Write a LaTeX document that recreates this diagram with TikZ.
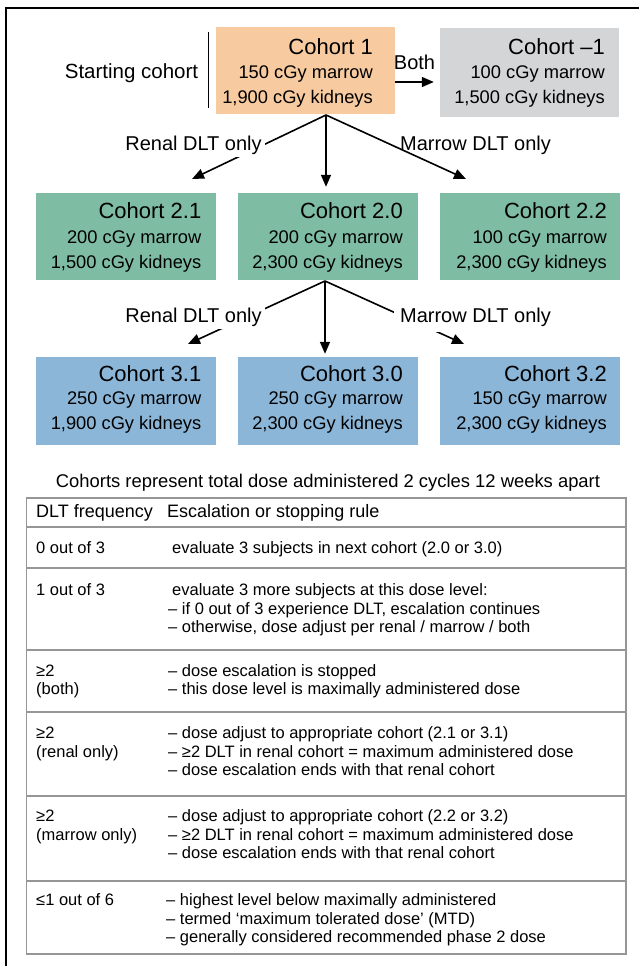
\documentclass[tikz,border=0pt]{standalone}
\usepackage{fontspec}
\setmainfont{Liberation Sans}
\usetikzlibrary{arrows.meta,calc}
\definecolor{corange}{RGB}{247,202,160}
\definecolor{cgray}{RGB}{211,213,215}
\definecolor{cgreen}{RGB}{126,189,164}
\definecolor{cblue}{RGB}{139,182,216}
\definecolor{tgray}{RGB}{150,150,150}
\begin{document}
\begin{tikzpicture}[x=1pt,y=-1pt,
  cbox/.style={draw=none,rectangle,minimum width=180pt,minimum height=87pt,inner sep=0pt},
  ctitle/.style={anchor=base east,inner sep=0pt,font=\fontsize{22}{26}\selectfont},
  cline/.style={anchor=base east,inner sep=0pt,font=\fontsize{18.3}{22}\selectfont},
  lab/.style={anchor=base,inner sep=0pt,font=\fontsize{20}{24}\selectfont},
  wlab/.style={lab,fill=white,inner sep=3pt},
  conn/.style={line width=1.6pt,-{Triangle[length=12pt,width=10pt]}},
  ttext/.style={anchor=base west,inner sep=0pt,font=\fontsize{16.5}{20}\selectfont},
  thead/.style={anchor=base west,inner sep=0pt,font=\fontsize{18}{22}\selectfont},
  tline/.style={draw=tgray,line width=1.6pt}]
\useasboundingbox (0,0) rectangle (639,966);
% outer frame (cropped)
\draw[line width=2.2pt] (6,966) -- (6,8) -- (639,8);

% starting cohort
\node[lab,font=\fontsize{20.5}{24}\selectfont] (start) at (131.5,78.3) {Starting cohort};
\draw[line width=1.5pt] (208.5,32) -- (208.5,108);

% cohort boxes
\node[cbox,fill=corange,minimum width=179pt] (c1) at (305.5,70.5) {};
\node[ctitle] (c1t) at (373,55) {Cohort 1};
\node[cline] (c1a) at (373,78.5) {150 cGy marrow};
\node[cline] (c1b) at (373,103.5) {1,900 cGy kidneys};

\node[cbox,fill=cgray,minimum width=179pt,minimum height=89pt] (cm1) at (529.5,72.5) {};
\node[ctitle] (cm1t) at (605,55) {Cohort –1};
\node[cline] (cm1a) at (605,78.5) {100 cGy marrow};
\node[cline] (cm1b) at (605,103.5) {1,500 cGy kidneys};

\node[cbox,fill=cgreen] (c21) at (126,236.5) {};
\node[ctitle] (c21t) at (201.5,218) {Cohort 2.1};
\node[cline] (c21a) at (201.5,243.5) {200 cGy marrow};
\node[cline] (c21b) at (201.5,268) {1,500 cGy kidneys};

\node[cbox,fill=cgreen] (c20) at (327.5,236.5) {};
\node[ctitle] (c20t) at (403,218) {Cohort 2.0};
\node[cline] (c20a) at (403,243.5) {200 cGy marrow};
\node[cline] (c20b) at (403,268) {2,300 cGy kidneys};

\node[cbox,fill=cgreen] (c22) at (529.5,236.5) {};
\node[ctitle] (c22t) at (607,218) {Cohort 2.2};
\node[cline] (c22a) at (607,243.5) {100 cGy marrow};
\node[cline] (c22b) at (607,268) {2,300 cGy kidneys};

\node[cbox,fill=cblue,minimum height=88pt] (c31) at (126,401) {};
\node[ctitle] (c31t) at (201.5,381) {Cohort 3.1};
\node[cline] (c31a) at (201.5,404.5) {250 cGy marrow};
\node[cline] (c31b) at (201.5,429.5) {1,900 cGy kidneys};

\node[cbox,fill=cblue,minimum height=88pt] (c30) at (327.5,401) {};
\node[ctitle] (c30t) at (403,381) {Cohort 3.0};
\node[cline] (c30a) at (403,404.5) {250 cGy marrow};
\node[cline] (c30b) at (403,429.5) {2,300 cGy kidneys};

\node[cbox,fill=cblue,minimum height=88pt] (c32) at (529.5,401) {};
\node[ctitle] (c32t) at (607,381) {Cohort 3.2};
\node[cline] (c32a) at (607,404.5) {150 cGy marrow};
\node[cline] (c32b) at (607,429.5) {2,300 cGy kidneys};

% Both arrow
\draw[conn,shorten >=6pt] ($(c1.east)+(0,11.5)$) -- ($(cm1.west)+(0,9.5)$);
\node[lab] (both) at (414.5,69.2) {Both};

% level 1 -> 2
\coordinate (o1) at (326,115);
\coordinate (t1l) at (192,179);
\coordinate (t1r) at (466,179);
\draw[conn] (o1) -- (t1l);
\draw[conn] (o1) -- (t1r);
\draw[conn] (o1) -- ($(c20.north)+(-1.5,-6)$);
\node[wlab] (r1) at (193.5,150.2) {Renal DLT only};
\node[lab] (m1) at (475.5,150.2) {Marrow DLT only};

% level 2 -> 3
\coordinate (o2) at (325,281);
\coordinate (t2l) at (188,344);
\coordinate (t2r) at (464,344);
\draw[conn] (o2) -- (t2l);
\draw[conn] (o2) -- (t2r);
\draw[conn] (o2) -- ($(c30.north)+(-2.5,-3)$);
\node[wlab] (r2) at (193.5,322.2) {Renal DLT only};
\node[wlab,inner sep=6pt] (m2) at (475.5,322.2) {Marrow DLT only};

% caption
\node[anchor=base,inner sep=0pt,font=\fontsize{18.4}{22}\selectfont] (cap) at (328,487.6) {Cohorts represent total dose administered 2 cycles 12 weeks apart};

% table
\draw[tline] (26.5,498) rectangle (626,954);
\foreach \yy in {527,568,650,712,796,881} \draw[tline] (26.5,\yy) -- (626,\yy);

\node[thead] (h1) at (36,517.5) {DLT frequency};
\node[thead] (h2) at (167,517.5) {Escalation or stopping rule};

\node[ttext] (a1) at (36,553.5) {0 out of 3};
\node[ttext] (a2) at (172,553.5) {evaluate 3 subjects in next cohort (2.0 or 3.0)};

\node[ttext] (b1) at (36,595.5) {1 out of 3};
\node[ttext] (b2) at (172,595.5) {evaluate 3 more subjects at this dose level:};
\node[ttext] (b3) at (168,614) {– if 0 out of 3 experience DLT, escalation continues};
\node[ttext] (b4) at (168,632.5) {– otherwise, dose adjust per renal / marrow / both};

\node[ttext] (d1) at (36,676) {≥2};
\node[ttext] (d2) at (36,694.5) {(both)};
\node[ttext] (d3) at (168,676) {– dose escalation is stopped};
\node[ttext] (d4) at (168,694.5) {– this dose level is maximally administered dose};

\node[ttext] (e1) at (36,738.5) {≥2};
\node[ttext] (e2) at (36,757) {(renal only)};
\node[ttext] (e3) at (168,738.5) {– dose adjust to appropriate cohort (2.1 or 3.1)};
\node[ttext] (e4) at (168,757) {– ≥2 DLT in renal cohort = maximum administered dose};
\node[ttext] (e5) at (168,775.5) {– dose escalation ends with that renal cohort};

\node[ttext] (f1) at (36,821.5) {≥2};
\node[ttext] (f2) at (36,840) {(marrow only)};
\node[ttext] (f3) at (168,821.5) {– dose adjust to appropriate cohort (2.2 or 3.2)};
\node[ttext] (f4) at (168,840) {– ≥2 DLT in renal cohort = maximum administered dose};
\node[ttext] (f5) at (168,858.5) {– dose escalation ends with that renal cohort};

\node[ttext] (g1) at (36,905.5) {≤1 out of 6};
\node[ttext] (g2) at (166,905.5) {– highest level below maximally administered};
\node[ttext] (g3) at (166,924) {– termed ‘maximum tolerated dose’ (MTD)};
\node[ttext] (g4) at (166,942.5) {– generally considered recommended phase 2 dose};
\end{tikzpicture}
\end{document}
